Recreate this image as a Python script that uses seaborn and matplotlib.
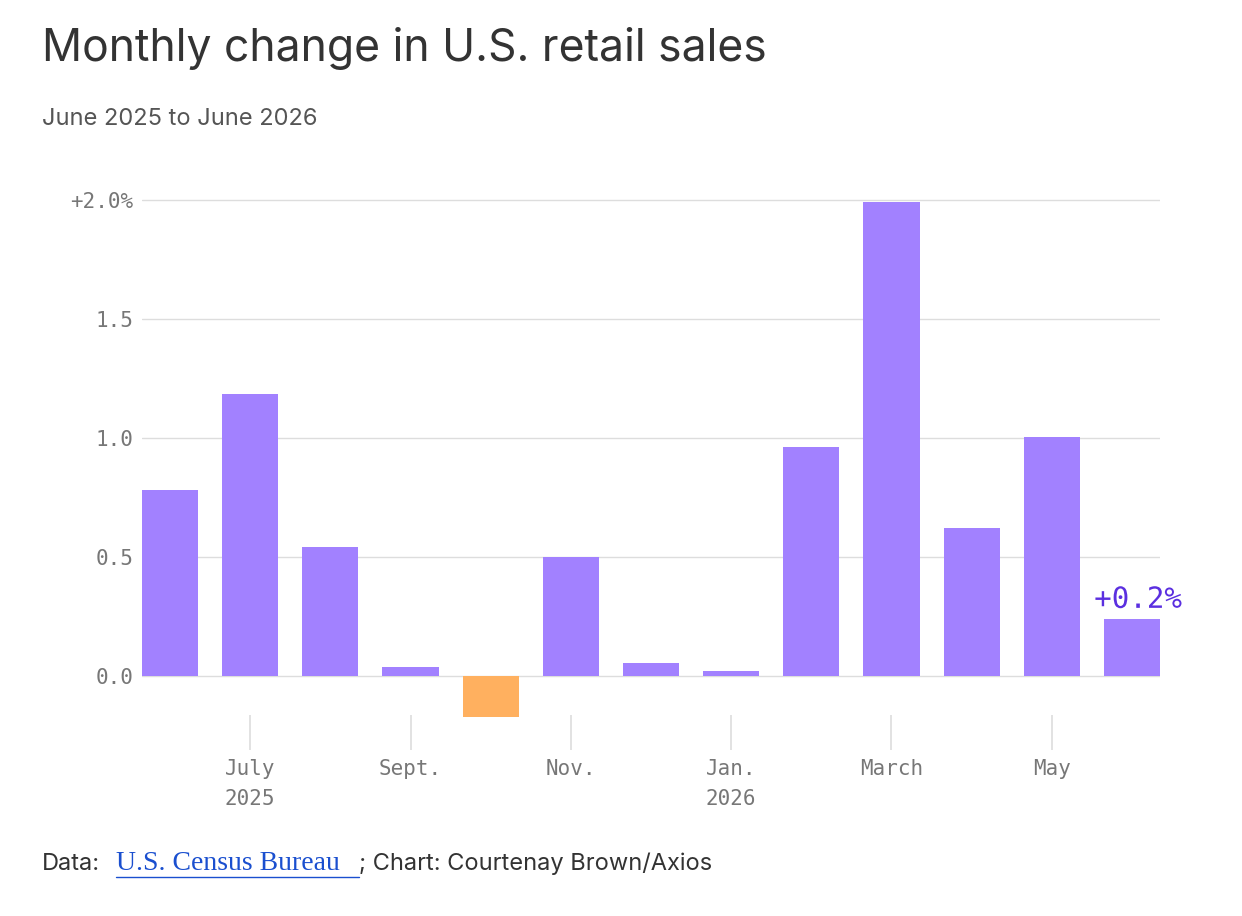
import matplotlib
matplotlib.use('Agg')
import matplotlib.pyplot as plt
import matplotlib.patheffects as pe
import seaborn as sns
import pandas as pd

sns.set_style('white')
plt.rcParams['font.family'] = ['Inter', 'DejaVu Sans']
mono = 'DejaVu Sans Mono'

data = pd.DataFrame({
    'month': ['June', 'July', 'Aug.', 'Sept.', 'Oct.', 'Nov.', 'Dec.',
              'Jan.', 'Feb.', 'March', 'April', 'May', 'June26'],
    'change': [0.78, 1.185, 0.54, 0.04, -0.17, 0.50, 0.055,
               0.02, 0.96, 1.99, 0.62, 1.005, 0.24],
})
colors = ['#ffb05f' if v < 0 else '#a281ff' for v in data['change']]

fig = plt.figure(figsize=(12.42, 9.16), dpi=100)
ax = fig.add_axes([0.1143, 0.171, 0.934 - 0.1143, 0.787 - 0.171])
sns.barplot(x='month', y='change', data=data, hue='month', palette=colors,
            legend=False, width=0.7, saturation=1, linewidth=0, ax=ax)

ax.set_ylim(-0.35, 2.02)
ax.set_xlim(-0.35, 12.35)
ax.set_yticks([0, 0.5, 1.0, 1.5, 2.0])
ax.set_yticklabels(['0.0', '0.5', '1.0', '1.5', '+2.0%'], family=mono,
                   fontsize=15, color='#777777')
for y in [0, 0.5, 1.0, 1.5, 2.0]:
    ax.axhline(y, color='#dddddd', lw=1, zorder=0)
ax.tick_params(axis='y', length=0, pad=6)
for s in ax.spines.values():
    s.set_visible(False)
ax.set_xlabel('')
ax.set_ylabel('')

tick_pos = [1, 3, 5, 7, 9, 11]
tick_lab = ['July\n2025', 'Sept.', 'Nov.', 'Jan.\n2026', 'March', 'May']
ax.vlines(tick_pos, -0.165, -0.31, color='#dddddd', lw=1.2, clip_on=False)
ax.set_xticks(tick_pos)
ax.set_xticklabels(tick_lab, family=mono, fontsize=15, color='#777777',
                   linespacing=1.6, va='top')
ax.tick_params(axis='x', length=0, pad=0)

ax.text(12.62, 0.32, '+0.2%', family=mono, fontsize=21, color='#5b2fe0',
        ha='right', va='center',
        path_effects=[pe.withStroke(linewidth=4, foreground='white')])

fig.text(42 / 1242, 1 - 48 / 916, 'Monthly change in U.S. retail sales',
         fontsize=32, color='#333333', va='center')
fig.text(42 / 1242, 1 - 119 / 916, 'June 2025 to June 2026',
         fontsize=17, color='#555555', va='center')

fy = 1 - 864 / 916
fig.text(42 / 1242, fy, 'Data:', fontsize=17, color='#333333', va='center')
fig.text(116 / 1242, fy, 'U.S. Census Bureau', fontsize=20, color='#1a4fcf',
         va='center', family='Liberation Serif')
fig.add_artist(plt.Line2D([116 / 1242, 359 / 1242], [1 - 877 / 916] * 2,
                          color='#1a4fcf', lw=1))
fig.text(359 / 1242, fy, '; Chart: Courtenay Brown/Axios', fontsize=17,
         color='#333333', va='center')

fig.savefig('out.png', dpi=100, facecolor='white')
